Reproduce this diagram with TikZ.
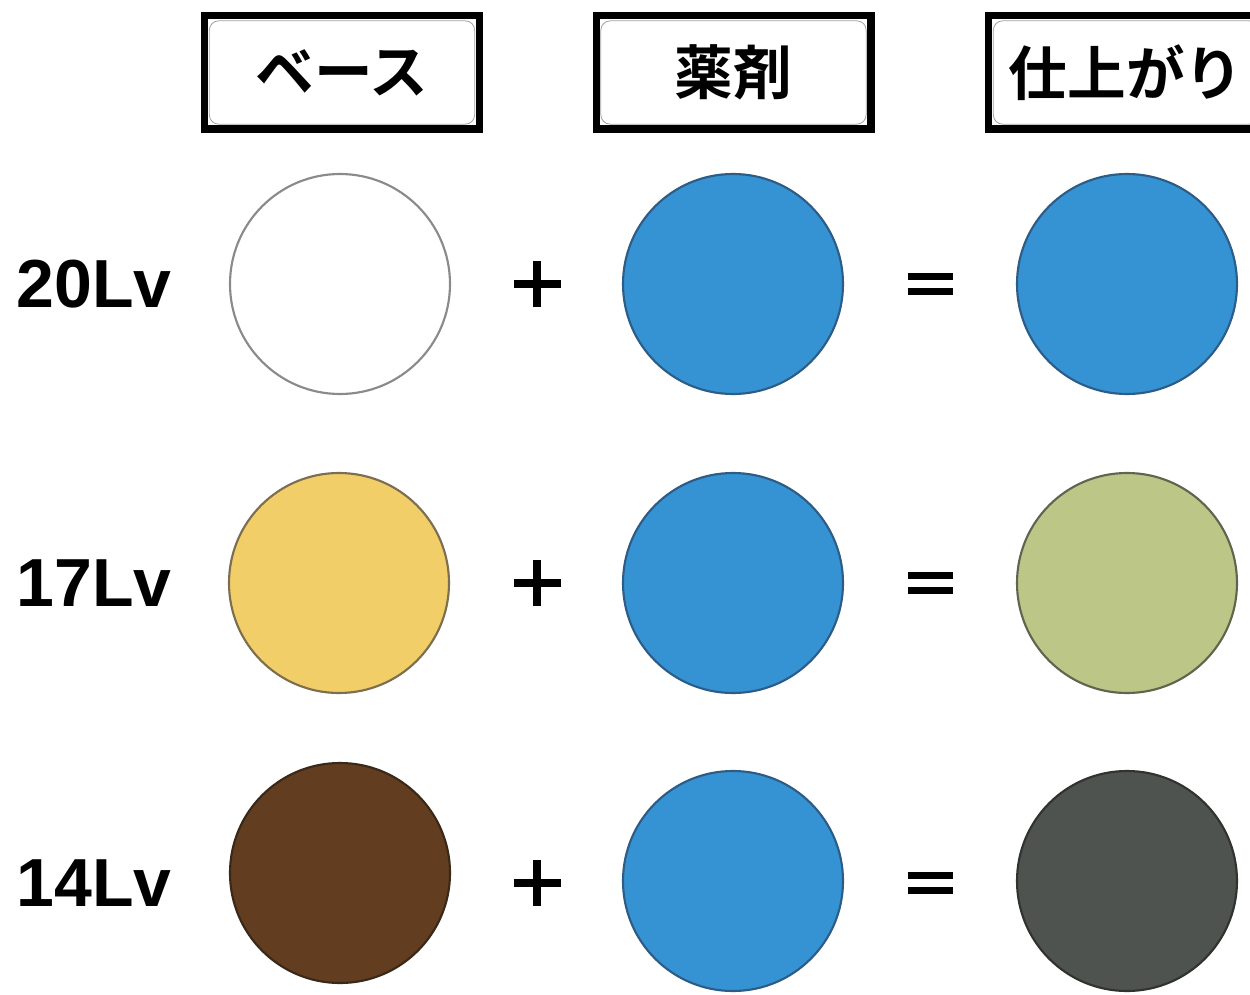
\documentclass[tikz,border=0pt]{standalone}
\usepackage{fontspec}
\setmainfont{Liberation Sans}
\newfontfamily\jpfont{Noto Sans CJK JP}[BoldFont={Noto Sans CJK JP Bold}]
\usetikzlibrary{calc}

\definecolor{dropblue}{HTML}{3593D4}
\definecolor{dropblueline}{HTML}{2D5C86}
\definecolor{ringgray}{HTML}{8A8A8A}
\definecolor{basewhite}{HTML}{FFFFFF}
\definecolor{baseyellow}{HTML}{F2CE69}
\definecolor{baseyellowline}{HTML}{7C6E4E}
\definecolor{basebrown}{HTML}{633D20}
\definecolor{basebrownline}{HTML}{3A2818}
\definecolor{mixgreen}{HTML}{BCC687}
\definecolor{mixgreenline}{HTML}{5E6650}
\definecolor{mixgray}{HTML}{4E5350}
\definecolor{mixgrayline}{HTML}{303330}
\definecolor{tabline}{HTML}{A0A0A0}

\tikzset{
  swatch/.style={circle, minimum size=165pt, inner sep=0pt, line width=1.6pt},
  tabframe/.style={draw=black, line width=5.6pt, minimum width=205.9pt,
    minimum height=85.1pt, inner sep=0pt},
  tabface/.style={draw=tabline, line width=0.6pt, rounded corners=7pt,
    fill=white, minimum width=199pt, minimum height=77.5pt, inner sep=0pt,
    font=\jpfont\bfseries\fontsize{44pt}{44pt}\selectfont},
  levellabel/.style={inner sep=0pt, font=\bfseries\fontsize{51pt}{51pt}\selectfont},
  opstroke/.style={line width=6pt, black},
  eqstroke/.style={line width=5.4pt, black},
}

\begin{document}
\begin{tikzpicture}[x=0.75pt, y=-0.75pt]
  \useasboundingbox (0,0) rectangle (1250,995);
  \fill[white] (0,0) rectangle (1250,995);
  \clip (0,0) rectangle (1250,995);

  % column headers
  \node[tabframe] (f1) at (342,72.5) {};
  \node[tabface]  (h1) at (342,72.5) {ベース};
  \node[tabframe] (f2) at (733.5,72.5) {};
  \node[tabface]  (h2) at (733.5,72.5) {薬剤};
  \node[tabframe] (f3) at (1126,72.5) {};
  \node[tabface]  (h3) at (1126,72.5) {仕上がり};

  % level labels
  \node[levellabel] (l20) at (94,284) {20Lv};
  \node[levellabel] (l17) at (94,583) {17Lv};
  \node[levellabel] (l14) at (94,883) {14Lv};

  % base colours
  \node[swatch, fill=basewhite, draw=ringgray] (b1) at (340,284) {};
  \node[swatch, fill=baseyellow, draw=baseyellowline] (b2) at (339,583) {};
  \node[swatch, fill=basebrown, draw=basebrownline] (b3) at (340,873) {};

  % agent
  \node[swatch, fill=dropblue, draw=dropblueline] (a1) at (733,284) {};
  \node[swatch, fill=dropblue, draw=dropblueline] (a2) at (733,583) {};
  \node[swatch, fill=dropblue, draw=dropblueline] (a3) at (733,881) {};

  % results
  \node[swatch, fill=dropblue, draw=dropblueline] (r1) at (1127,284) {};
  \node[swatch, fill=mixgreen, draw=mixgreenline] (r2) at (1127,583) {};
  \node[swatch, fill=mixgray, draw=mixgrayline] (r3) at (1127,881) {};

  % plus signs
  \foreach \y/\n in {284/1,583/2,883/3} {
    \coordinate (plus\n) at (537,\y);
    \draw[opstroke] ($(plus\n)+(-23.5,0)$) -- ($(plus\n)+(23.5,0)$);
    \draw[opstroke] ($(plus\n)+(0,-23)$) -- ($(plus\n)+(0,23)$);
  }

  % equals signs
  \foreach \y/\n in {284/1,583/2,883/3} {
    \coordinate (eq\n) at (930,\y);
    \draw[eqstroke] ($(eq\n)+(-22.5,-7.5)$) -- ($(eq\n)+(22.5,-7.5)$);
    \draw[eqstroke] ($(eq\n)+(-22.5,7.5)$) -- ($(eq\n)+(22.5,7.5)$);
  }
\end{tikzpicture}
\end{document}
